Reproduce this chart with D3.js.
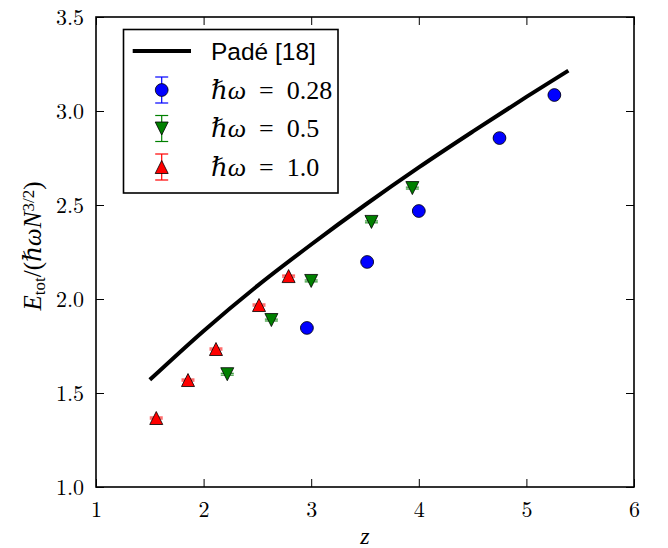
<!DOCTYPE html>
<html lang="en">
<head>
<meta charset="utf-8">
<title>Etot vs z</title>
<script src="https://cdn.jsdelivr.net/npm/d3@7"></script>
<style>
  body { margin: 0; background: #fff; }
  .tick text { font-family: "Latin Modern Roman", "Liberation Serif", "DejaVu Serif", serif; font-size: 22px; fill: #000; }
  .math { font-family: "Liberation Serif", "DejaVu Serif", serif; }
</style>
</head>
<body>
<div id="chart"></div>
<script>
// Pade curve
var padeZ = [1.5, 2.0, 2.5, 3.0, 3.5, 4.0, 4.5, 5.0, 5.39];
var padeE = [1.57, 1.83, 2.07, 2.29, 2.50, 2.70, 2.89, 3.075, 3.215];

// hw = 0.28 (blue circles)
var z028 = [2.96, 3.52, 4.00, 4.75, 5.26];
var e028 = [1.846, 2.197, 2.468, 2.856, 3.085];
// hw = 0.5 (green down triangles)
var z05 = [2.22, 2.63, 3.00, 3.56, 3.94];
var e05 = [1.60, 1.888, 2.096, 2.41, 2.59];
// hw = 1.0 (red up triangles)
var z10 = [1.56, 1.855, 2.115, 2.515, 2.79];
var e10 = [1.367, 1.569, 1.734, 1.968, 2.122];
var errAll = 0.005;

var xTicks = [1, 2, 3, 4, 5, 6];
var yTicks = [1.0, 1.5, 2.0, 2.5, 3.0, 3.5];

var W = 668, H = 548;
var margin = {top: 17, right: 34, bottom: 61, left: 96};
var width = W - margin.left - margin.right,
    height = H - margin.top - margin.bottom;

var svg = d3.select("#chart").append("svg")
    .attr("width", W).attr("height", H);
svg.append("rect").attr("width", W).attr("height", H).attr("fill", "#fff");

var g = svg.append("g")
    .attr("transform", "translate(" + margin.left + "," + margin.top + ")");

var x = d3.scaleLinear().domain([1, 6]).range([0, width]);
var y = d3.scaleLinear().domain([1, 3.5]).range([height, 0]);

// axes, ticks pointing inward on all four sides
var xb = g.append("g").attr("transform", "translate(0," + height + ")")
    .call(d3.axisBottom(x).tickValues(xTicks).tickSize(-8).tickPadding(14).tickFormat(d3.format("d")));
var yl = g.append("g")
    .call(d3.axisLeft(y).tickValues(yTicks).tickSize(-8).tickPadding(12).tickFormat(d3.format(".1f")));
var xt = g.append("g")
    .call(d3.axisTop(x).tickValues(xTicks).tickSize(-8).tickFormat(""));
var yr = g.append("g").attr("transform", "translate(" + width + ",0)")
    .call(d3.axisRight(y).tickValues(yTicks).tickSize(-8).tickFormat(""));
[xb, yl, xt, yr].forEach(function(a) {
  a.select(".domain").remove();
  a.selectAll(".tick line").attr("stroke", "#000").attr("stroke-width", 1);
});

// Pade line
var line = d3.line()
    .curve(d3.curveMonotoneX)
    .x(function(d) { return x(d[0]); })
    .y(function(d) { return y(d[1]); });
g.append("path")
    .datum(d3.zip(padeZ, padeE))
    .attr("d", line)
    .attr("fill", "none")
    .attr("stroke", "#000")
    .attr("stroke-width", 4);

// marker shapes
function markerPath(shape, r) {
  if (shape == "circle") return d3.symbol().type(d3.symbolCircle).size(Math.PI * r * r)();
  if (shape == "up") return "M0," + (-r) + "L" + r + "," + r + "L" + (-r) + "," + r + "Z";
  return "M0," + r + "L" + r + "," + (-r) + "L" + (-r) + "," + (-r) + "Z";
}

var series = [
  {zs: z028, es: e028, color: "#0000ff", shape: "circle", r: 6.4, label: "0.28"},
  {zs: z05, es: e05, color: "#008000", shape: "down", r: 6.5, label: "0.5"},
  {zs: z10, es: e10, color: "#ff0000", shape: "up", r: 6.5, label: "1.0"}
];

series.forEach(function(s) {
  var pts = d3.zip(s.zs, s.es);
  var grp = g.append("g");
  // error bars with caps
  var eb = grp.selectAll(".eb").data(pts).enter().append("g");
  eb.append("line")
      .attr("x1", function(d) { return x(d[0]); }).attr("x2", function(d) { return x(d[0]); })
      .attr("y1", function(d) { return y(d[1] - errAll); }).attr("y2", function(d) { return y(d[1] + errAll); })
      .attr("stroke", s.color);
  [-1, 1].forEach(function(k) {
    eb.append("line")
        .attr("x1", function(d) { return x(d[0]) - 6.5; }).attr("x2", function(d) { return x(d[0]) + 6.5; })
        .attr("y1", function(d) { return y(d[1] + k * errAll); }).attr("y2", function(d) { return y(d[1] + k * errAll); })
        .attr("stroke", s.color).attr("stroke-width", 1);
  });
  grp.selectAll(".pt").data(pts).enter().append("path")
      .attr("d", markerPath(s.shape, s.r))
      .attr("transform", function(d) { return "translate(" + x(d[0]) + "," + y(d[1]) + ")"; })
      .attr("fill", s.color)
      .attr("stroke", "#000")
      .attr("stroke-width", 0.8);
});

// frame
g.append("rect")
    .attr("width", width).attr("height", height)
    .attr("fill", "none").attr("stroke", "#000").attr("stroke-width", 1.6);

// legend
var leg = svg.append("g");
leg.append("rect")
    .attr("x", 123.5).attr("y", 29.5).attr("width", 214.5).attr("height", 163.5)
    .attr("fill", "#fff").attr("stroke", "#000").attr("stroke-width", 1.6);
leg.append("line")
    .attr("x1", 132.7).attr("x2", 191).attr("y1", 51).attr("y2", 51)
    .attr("stroke", "#000").attr("stroke-width", 4);
leg.append("text")
    .attr("x", 211).attr("y", 51).attr("dy", "0.36em")
    .style("font-family", "'Liberation Sans', Arial, sans-serif")
    .style("font-size", "24.5px")
    .text("Padé [18]");

var rowY = [90, 128.5, 167];
series.forEach(function(s, i) {
  var cy = rowY[i], cx = 161.7;
  leg.append("line").attr("x1", cx).attr("x2", cx).attr("y1", cy - 13).attr("y2", cy + 13)
      .attr("stroke", s.color).attr("stroke-width", 1.2);
  [-13, 13].forEach(function(k) {
    leg.append("line").attr("x1", cx - 6.5).attr("x2", cx + 6.5).attr("y1", cy + k).attr("y2", cy + k)
        .attr("stroke", s.color).attr("stroke-width", 1.2);
  });
  leg.append("path")
      .attr("d", markerPath(s.shape, s.r))
      .attr("transform", "translate(" + cx + "," + cy + ")")
      .attr("fill", s.color).attr("stroke", "#000").attr("stroke-width", 0.8);
  var t = leg.append("text").attr("class", "math")
      .attr("x", 211).attr("y", cy).attr("dy", "0.34em")
      .style("font-size", "26px");
  t.append("tspan").style("font-style", "italic").text("\u210F\u03C9");
  t.append("tspan").text("\u2002=\u2002" + s.label);
});

// axis labels
svg.append("text").attr("class", "math")
    .attr("x", margin.left + width / 2).attr("y", 544)
    .attr("text-anchor", "middle")
    .style("font-size", "24px").style("font-style", "italic")
    .text("z");

var yl2 = svg.append("text").attr("class", "math")
    .attr("transform", "translate(41,246) rotate(-90)")
    .attr("text-anchor", "middle")
    .style("font-size", "25px");
yl2.append("tspan").style("font-style", "italic").text("E");
yl2.append("tspan").attr("baseline-shift", "-25%").style("font-size", "17px").text("tot");
yl2.append("tspan").text("/(");
yl2.append("tspan").style("font-style", "italic").text("\u210F\u03C9N");
yl2.append("tspan").attr("baseline-shift", "40%").style("font-size", "17px").text("3/2");
yl2.append("tspan").text(")");
</script>
</body>
</html>
